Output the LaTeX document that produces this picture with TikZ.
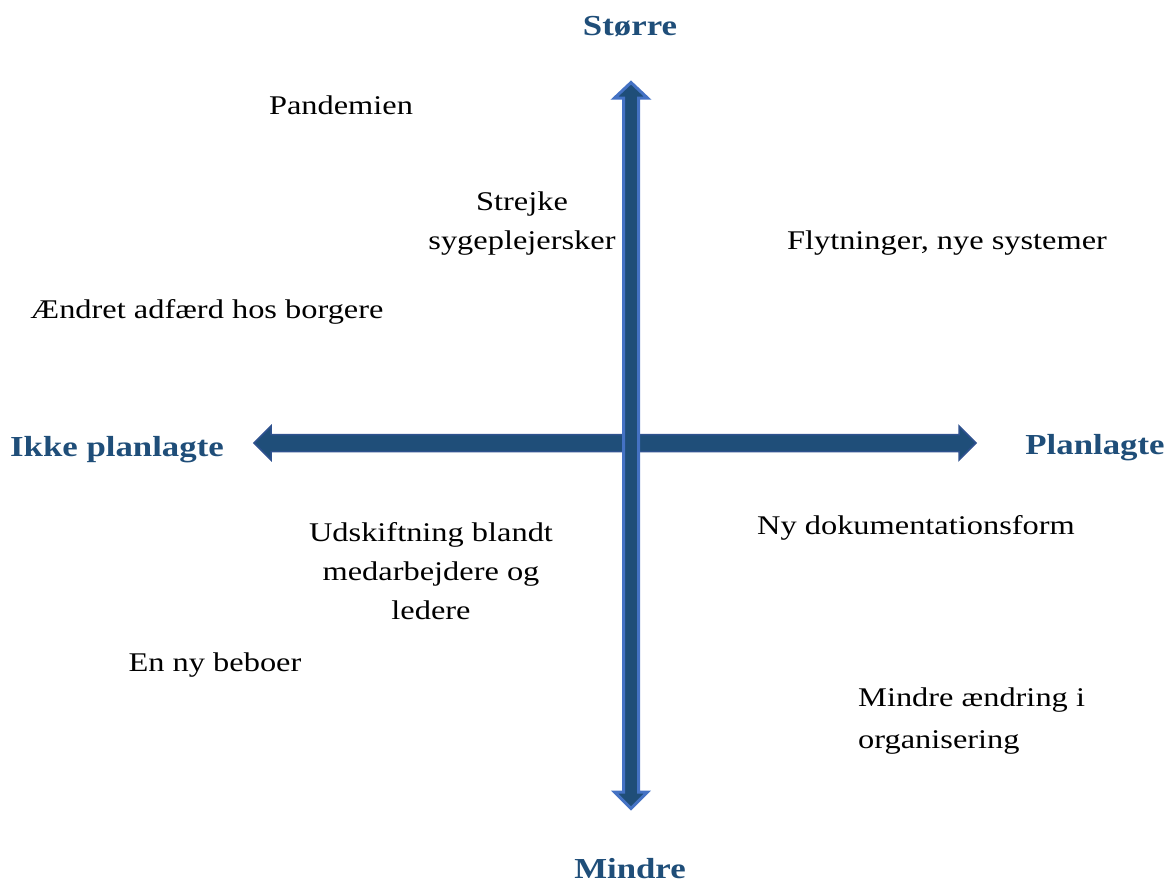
\documentclass[tikz,border=0pt]{standalone}
\usepackage{fontspec}
\setmainfont{Liberation Serif}[FakeStretch=1.2]
\definecolor{arrowfill}{HTML}{1F4E79}
\definecolor{vborder}{HTML}{4472C4}
\definecolor{hborder}{HTML}{2F528F}
\definecolor{labelblue}{HTML}{1F4E79}
\tikzset{
  body/.style={inner sep=0pt, align=center, font=\fontsize{27}{39}\selectfont},
  axislabel/.style={inner sep=0pt, text=labelblue, font=\fontsize{29}{35}\selectfont\bfseries},
}
\begin{document}
\begin{tikzpicture}[x=1pt,y=-1pt]
\useasboundingbox (0,0) rectangle (1172,884);
% horizontal arrow
\draw[fill=arrowfill, draw=hborder, line width=1.5pt, line join=miter]
  (254,443) -- (271,426) -- (271,434.5) -- (959,434.5) -- (959,426) -- (976,443)
  -- (959,460) -- (959,451.5) -- (271,451.5) -- (271,460) -- cycle;
% vertical arrow
\draw[fill=arrowfill, draw=vborder, line width=3pt, line join=miter]
  (631,82.5) -- (647.5,98) -- (638.5,98) -- (638.5,792) -- (647.5,792) -- (631,808.5)
  -- (614.5,792) -- (623.5,792) -- (623.5,98) -- (614.5,98) -- cycle;
% axis labels
\node[axislabel] (top) at (630,26) {Større};
\node[axislabel] (bottom) at (630,869) {Mindre};
\node[axislabel] (left) at (117,450) {Ikke planlagte};
\node[axislabel] (right) at (1095,448) {Planlagte};
% items
\node[body] (pand) at (341,105) {Pandemien};
\node[body] (strejke) at (522,224) {Strejke\\sygeplejersker};
\node[body] (flyt) at (947,243) {Flytninger, nye systemer};
\node[body] (aendret) at (207,312) {Ændret adfærd hos borgere};
\node[body] (udsk) at (431,571) {Udskiftning blandt\\medarbejdere og\\ledere};
\node[body] (nydok) at (916,528) {Ny dokumentationsform};
\node[body] (beboer) at (215,665) {En ny beboer};
\node[body, align=left, anchor=west, font=\fontsize{27}{42}\selectfont] (mindre) at (858,721) {Mindre ændring i\\organisering};
\end{tikzpicture}
\end{document}
